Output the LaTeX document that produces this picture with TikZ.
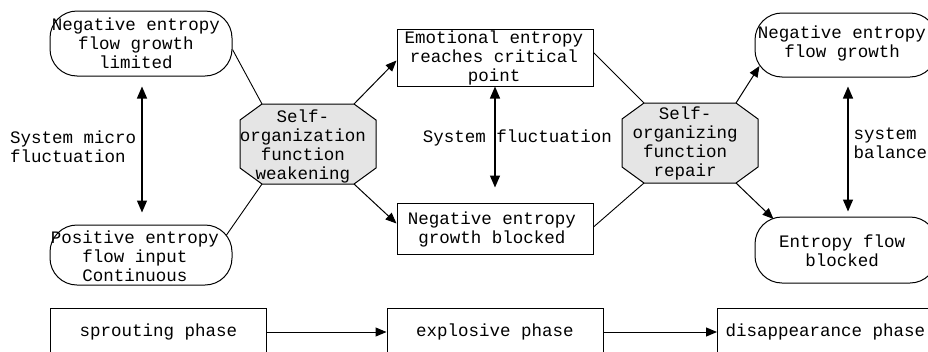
\documentclass[tikz,border=0pt]{standalone}
\usepackage{fontspec}
\newfontfamily\monofam{Liberation Mono}
\usetikzlibrary{arrows.meta,calc}

\definecolor{octgray}{RGB}{229,229,229}

\tikzset{
  lbl/.style={font=\monofam\fontsize{17.5}{19}\selectfont, inner sep=0pt, align=center},
  lblleft/.style={lbl, align=left, anchor=west},
  term/.style={draw, line width=1pt, rounded corners=27pt, minimum width=182pt, inner sep=0pt},
  stepbox/.style={draw, line width=1pt, minimum width=196pt, inner sep=0pt},
  phasebox/.style={draw, line width=1pt, minimum width=216pt, minimum height=48pt, inner sep=0pt,
                   font=\monofam\fontsize{17.5}{19}\selectfont},
  octo/.style={draw, line width=1pt, fill=octgray},
  link/.style={line width=0.9pt},
  arr/.style={line width=1pt, -{Triangle[length=11pt,width=9pt]}},
  dblarr/.style={line width=1.3pt, {Triangle[length=12pt,width=10pt]}-{Triangle[length=12pt,width=10pt]}},
}

% octagon with named corner points: name, centre x, centre y
\newcommand\octshape[3]{%
  \coordinate (#1) at (#2,#3);
  \coordinate (#1-tl) at ($(#1)+(-46,-40)$);
  \coordinate (#1-tr) at ($(#1)+(46,-40)$);
  \coordinate (#1-rt) at ($(#1)+(68,-24)$);
  \coordinate (#1-rb) at ($(#1)+(68,24)$);
  \coordinate (#1-br) at ($(#1)+(46,40)$);
  \coordinate (#1-bl) at ($(#1)+(-46,40)$);
  \coordinate (#1-lb) at ($(#1)+(-68,24)$);
  \coordinate (#1-lt) at ($(#1)+(-68,-24)$);
  \draw[octo] (#1-tl) -- (#1-tr) -- (#1-rt) -- (#1-rb) -- (#1-br) -- (#1-bl) -- (#1-lb) -- (#1-lt) -- cycle;}

\begin{document}
\begin{tikzpicture}[x=1pt, y=-1pt]
  \path[use as bounding box] (0,0) rectangle (928,351);
  \clip (0,0) rectangle (928,351);
  \fill[white] (0,0) rectangle (928,351);

  % state shapes
  \node[term, minimum height=65pt] (A) at (141,43.5) {};
  \node[term, minimum height=60pt] (B) at (141,255) {};
  \node[term, minimum height=64pt] (C) at (846,45) {};
  \node[term, minimum height=66pt] (D) at (846,250) {};
  \node[stepbox, minimum height=57pt] (E) at (495,57.5) {};
  \node[stepbox, minimum height=51pt] (F) at (495,228.5) {};
  \octshape{O1}{308}{144}
  \octshape{O2}{690}{143}

  % texts
  \node[lbl] (A-t) at (136,43) {Negative entropy\\flow growth\\limited};
  \node[lbl] (B-t) at (135,256) {Positive entropy\\flow input\\Continuous};
  \node[lbl] (C-t) at (842,43) {Negative entropy\\flow growth};
  \node[lbl] (D-t) at (842,251) {Entropy flow\\blocked};
  \node[lbl] (E-t) at (494,58) {Emotional entropy\\reaches critical\\point};
  \node[lbl] (F-t) at (492,229) {Negative entropy\\growth blocked};
  \node[lbl] (O1-t) at (303,146) {Self-\\organization\\function\\weakening};
  \node[lbl] (O2-t) at (685,143) {Self-\\organizing\\function\\repair};
  \node[lblleft] (L1) at (10,146.5) {System micro\\fluctuation};
  \node[lbl] (L2) at (517.5,138) {System fluctuation};
  \node[lblleft] (L3) at (853.5,143) {system\\balance};

  % connectors
  \draw[link] ([yshift=-6pt]A.east) -- (O1-tl);
  \draw[link] ([xshift=-6pt,yshift=20pt]B.east) -- (O1-bl);
  \draw[arr] (O1-tr) -- ([yshift=-3pt]E.west);
  \draw[arr] (O1-br) -- ([yshift=5pt]F.west);
  \draw[link] ([yshift=5pt]E.east) -- (O2-tl);
  \draw[link] ([yshift=1.5pt]F.east) -- (O2-bl);
  \draw[arr] (O2-tr) -- ([xshift=5pt,yshift=-21pt]C.west);
  \draw[arr] (O2-br) -- ([xshift=19pt,yshift=31pt]D.west);

  \draw[dblarr] ([xshift=1pt,yshift=-10pt]A.south) -- ([xshift=1pt,yshift=12pt]B.north);
  \draw[dblarr] (E.south) -- ([yshift=15pt]F.north);
  \draw[dblarr] ([xshift=2pt,yshift=-9pt]C.south) -- ([xshift=2pt,yshift=5pt]D.north);

  % phases
  \node[phasebox] (P1) at (158.5,332) {sprouting phase};
  \node[phasebox] (P2) at (495,332) {explosive phase};
  \node[phasebox] (P3) at (825.5,332) {disappearance phase};
  \draw[arr] (P1) -- (P2);
  \draw[arr] (P2) -- (P3);
\end{tikzpicture}
\end{document}
